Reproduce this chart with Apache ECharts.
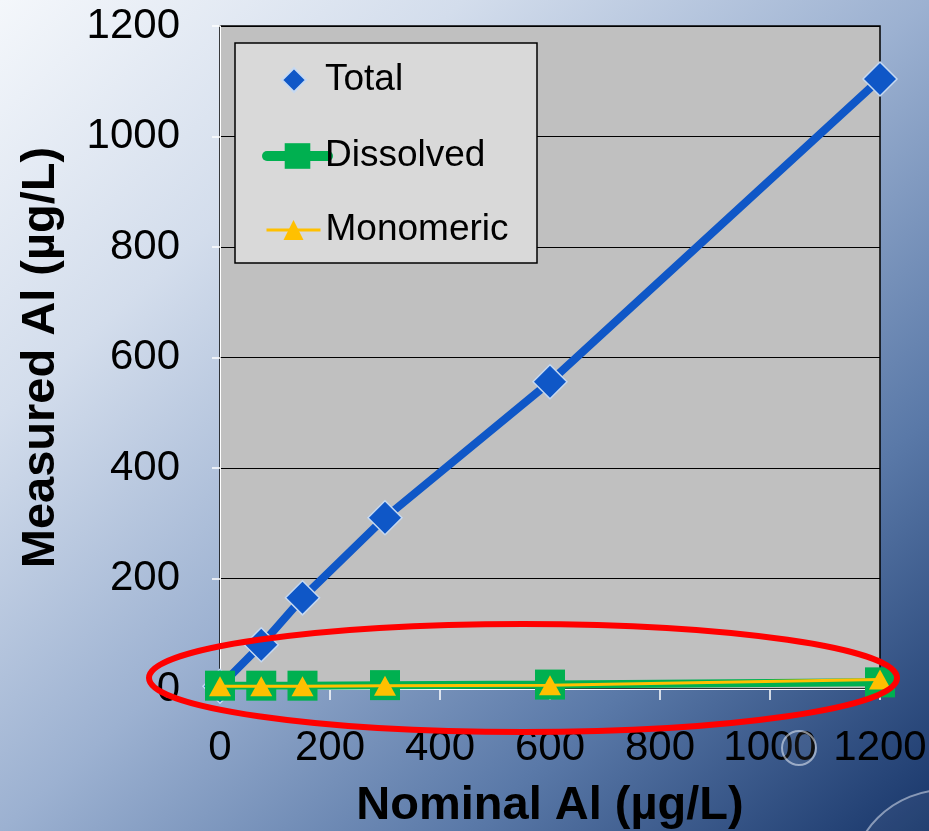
<!DOCTYPE html>
<html>
<head>
<meta charset="utf-8">
<script src="https://cdn.jsdelivr.net/npm/echarts@6/dist/echarts.min.js"></script>
<style>
  html, body { margin: 0; padding: 0; }
  body {
    width: 929px; height: 831px; overflow: hidden;
    background: linear-gradient(to bottom right, #f4f7fb 0%, #d3ddec 25%, #9cb1d1 50%, #5a79a8 75%, #18366a 100%);
  }
  #chart { width: 929px; height: 831px; }
</style>
</head>
<body>
<div id="chart"></div>
<script>
// Nominal aluminium concentrations (µg/L)
const nominal = [0, 75, 150, 300, 600, 1200];
// Measured fractions (µg/L)
const totalAl = [5, 80, 165, 310, 556, 1104];
const dissolvedAl = [6, 6, 6, 7, 8, 12];
const monomericAl = [5, 5, 5, 6, 7, 17];
// Axis ranges and tick step
const axisMin = 0;
const axisMax = 1200;
const axisStep = 200;

const seriesNames = ['Total', 'Dissolved', 'Monomeric'];

const pairs = (vals) => nominal.map((x, i) => [x, vals[i]]);
const plainNumber = (v) => String(v);

const font = 'Liberation Sans, Arial, sans-serif';
const legendText = { fontFamily: font, fontSize: 37, color: '#000', lineHeight: 40 };

const chart = echarts.init(document.getElementById('chart'), null, { renderer: 'canvas' });

chart.setOption({
  backgroundColor: 'transparent',
  animation: false,
  grid: {
    left: 220, right: 49, top: 26, bottom: 142,
    outerBoundsMode: 'none',
    containLabel: false,
    show: true,
    backgroundColor: '#c0c0c0',
    borderColor: '#000000',
    borderWidth: 1.5
  },
  xAxis: {
    type: 'value',
    min: axisMin, max: axisMax, interval: axisStep,
    name: 'Nominal Al (µg/L)',
    nameLocation: 'middle',
    nameGap: 94,
    nameTextStyle: { fontFamily: font, fontWeight: 'bold', fontSize: 47, color: '#000' },
    axisLine: { show: true, onZero: false, lineStyle: { color: '#ffffff', width: 1 } },
    axisTick: { show: true, inside: false, length: 11, lineStyle: { color: '#ffffff', width: 1.5 } },
    axisLabel: { fontFamily: font, fontSize: 42, color: '#000', margin: 38, formatter: plainNumber },
    splitLine: { show: false }
  },
  yAxis: {
    type: 'value',
    min: axisMin, max: axisMax, interval: axisStep,
    name: 'Measured Al (µg/L)',
    nameLocation: 'middle',
    nameGap: 155,
    nameTextStyle: { fontFamily: font, fontWeight: 'bold', fontSize: 47, color: '#000' },
    axisLine: { show: true, onZero: false, lineStyle: { color: '#ffffff', width: 1 } },
    axisTick: { show: true, inside: false, length: 8, lineStyle: { color: '#ffffff', width: 1.5 } },
    axisLabel: { fontFamily: font, fontSize: 42, color: '#000', margin: 40, formatter: plainNumber },
    splitLine: { show: true, lineStyle: { color: '#000000', width: 1 } }
  },
  legend: [
    {
      data: [{ name: seriesNames[0], icon: 'diamond' }],
      left: 281, top: 60, padding: 0,
      itemWidth: 24, itemHeight: 24,
      selectedMode: false, z: 20,
      textStyle: Object.assign({}, legendText, { padding: [0, 0, 0, 14] })
    },
    {
      data: [seriesNames[1]],
      left: 262, top: 136, padding: 0,
      itemWidth: 61, itemHeight: 32,
      selectedMode: false, z: 20,
      lineStyle: { width: 10, cap: 'round' },
      textStyle: Object.assign({}, legendText, { padding: [0, 0, 0, -8] })
    },
    {
      data: [seriesNames[2]],
      left: 265, top: 210, padding: 0,
      itemWidth: 54, itemHeight: 25,
      selectedMode: false, z: 20,
      lineStyle: { width: 3 },
      textStyle: legendText
    }
  ],
  graphic: [
    // legend frame
    {
      type: 'rect', z: 10,
      shape: { x: 235, y: 43, width: 302, height: 220 },
      style: { fill: '#d9d9d9', stroke: '#000000', lineWidth: 1.5 }
    },
    // highlight around the low-level fractions
    {
      type: 'ellipse', z: 100,
      shape: { cx: 523, cy: 678, rx: 374, ry: 54 },
      style: { fill: 'none', stroke: '#ff0000', lineWidth: 6 }
    },
    // water-drop decorations in the corner
    {
      type: 'circle', z: 90,
      shape: { cx: 799, cy: 748, r: 17 },
      style: { fill: 'rgba(255,255,255,0.06)', stroke: 'rgba(235,240,250,0.55)', lineWidth: 2 }
    },
    {
      type: 'circle', z: 90,
      shape: { cx: 945, cy: 885, r: 95 },
      style: { fill: 'rgba(255,255,255,0.05)', stroke: 'rgba(235,240,250,0.5)', lineWidth: 2 }
    }
  ],
  series: [
    {
      name: seriesNames[0],
      type: 'line',
      data: pairs(totalAl),
      symbol: 'diamond',
      symbolSize: 34,
      color: '#0f57c7',
      lineStyle: { width: 8, color: '#0f57c7' },
      itemStyle: { color: '#0f57c7', borderColor: '#c6d9f1', borderWidth: 1.5 },
      z: 2
    },
    {
      name: seriesNames[1],
      type: 'line',
      data: pairs(dissolvedAl),
      symbol: 'rect',
      symbolSize: 30,
      color: '#00b050',
      lineStyle: { width: 8, color: '#00b050' },
      itemStyle: { color: '#00b050' },
      z: 3
    },
    {
      name: seriesNames[2],
      type: 'line',
      data: pairs(monomericAl),
      symbol: 'triangle',
      symbolSize: [22, 20],
      color: '#ffc000',
      lineStyle: { width: 3, color: '#ffc000' },
      itemStyle: { color: '#ffc000' },
      z: 4
    }
  ]
});
</script>
</body>
</html>
